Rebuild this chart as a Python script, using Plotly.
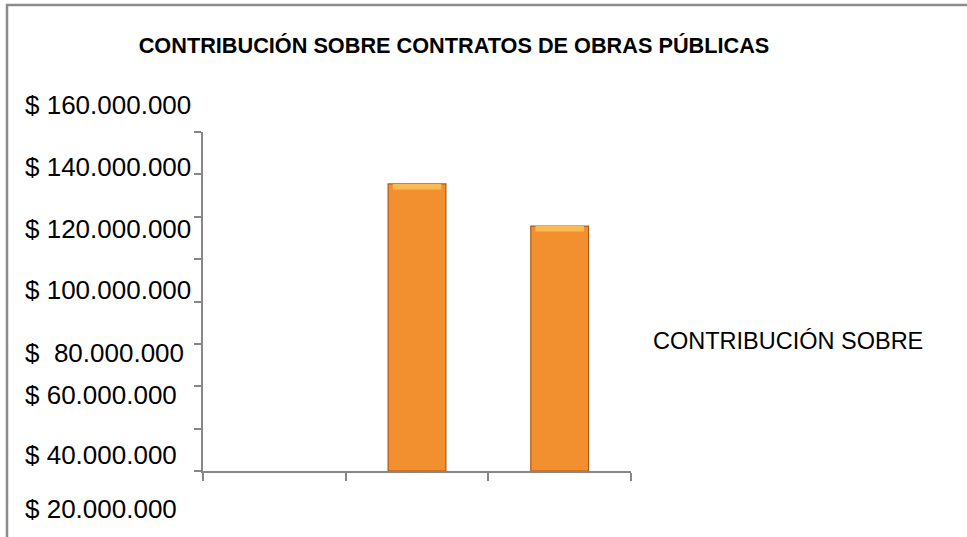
import plotly.graph_objects as go

# ---------------- data ----------------
categories = ["Periodo 1", "Periodo 2", "Periodo 3"]
values = [None, 135_500_000, 115_600_000]
series_name = "CONTRIBUCIÓN SOBRE"
title_text = "CONTRIBUCIÓN SOBRE CONTRATOS DE OBRAS PÚBLICAS"
tick_labels = ["$ 160.000.000", "$ 140.000.000", "$ 120.000.000", "$ 100.000.000",
               "$  80.000.000", "$ 60.000.000", "$ 40.000.000", "$ 20.000.000"]

# ---------------- layout geometry (pixels) ----------------
FW, FH = 967, 537
L, R, T, B = 203, 336, 132, 66
PW, PH = FW - L - R, FH - T - B


def px_x(px):
    return (px - L) / PW


def px_y(py):
    return (FH - B - py) / PH


AXIS = "#878787"
ORANGE = "#F2902F"
EDGE = "#A9591B"

fig = go.Figure()
fig.add_trace(go.Bar(
    x=categories, y=values, name=series_name,
    width=0.405,
    marker=dict(color=ORANGE, line=dict(color=EDGE, width=1.2)),
    showlegend=False,
))
# light top bevel band (derived from the same values)
bevel = 2_600_000
fig.add_trace(go.Bar(
    x=categories,
    y=[bevel if v is not None else None for v in values],
    base=[v - bevel if v is not None else None for v in values],
    width=0.34,
    marker=dict(color="#FBBA52", line=dict(width=0)),
    showlegend=False, hoverinfo="skip",
))

fig.update_layout(
    width=FW, height=FH,
    margin=dict(l=L, r=R, t=T, b=B),
    paper_bgcolor="white", plot_bgcolor="white",
    barmode="overlay",
    showlegend=False,
    title=dict(
        text="<b>" + title_text + "</b>",
        font=dict(family="Liberation Sans, Arial, sans-serif", size=21.7, color="black"),
        xref="container", yref="container",
        x=454 / FW, y=1 - 45 / FH, xanchor="center", yanchor="middle",
    ),
    xaxis=dict(
        type="category", range=[-0.5, 2.5],
        showline=True, linecolor=AXIS, linewidth=1.5,
        ticks="outside", tickson="boundaries", ticklen=8, tickcolor=AXIS, tickwidth=1.5,
        showticklabels=False, showgrid=False, zeroline=False,
    ),
    yaxis=dict(
        range=[0, 160_000_000], dtick=20_000_000, tick0=0,
        showline=True, linecolor=AXIS, linewidth=1.5,
        ticks="outside", ticklen=7, tickcolor=AXIS, tickwidth=1.5,
        showticklabels=False, showgrid=False, zeroline=False,
    ),
)

# misplaced Excel-style value labels on the left
label_y_px = [105, 167, 229, 290, 353, 395, 455, 509]
for txt, py in zip(tick_labels, label_y_px):
    fig.add_annotation(
        text=txt, xref="paper", yref="paper",
        x=px_x(23), y=px_y(py), xanchor="left", yanchor="middle",
        showarrow=False,
        font=dict(family="Liberation Sans, Arial, sans-serif", size=26, color="black"),
    )

# legend text (series name)
fig.add_annotation(
    text=series_name, xref="paper", yref="paper",
    x=px_x(651), y=px_y(341), xanchor="left", yanchor="middle",
    showarrow=False,
    font=dict(family="Liberation Sans, Arial, sans-serif", size=23.5, color="black"),
)

# outer chart border
fig.add_shape(
    type="rect", xref="paper", yref="paper",
    x0=px_x(7), x1=px_x(1000), y0=px_y(580), y1=px_y(5),
    line=dict(color="#8C8C8C", width=2.5), fillcolor="rgba(0,0,0,0)", layer="below",
)

fig.write_html(
    "out.html",
    config={"displayModeBar": False},
    post_script="document.body.style.margin='0';document.body.style.overflow='hidden';",
)
